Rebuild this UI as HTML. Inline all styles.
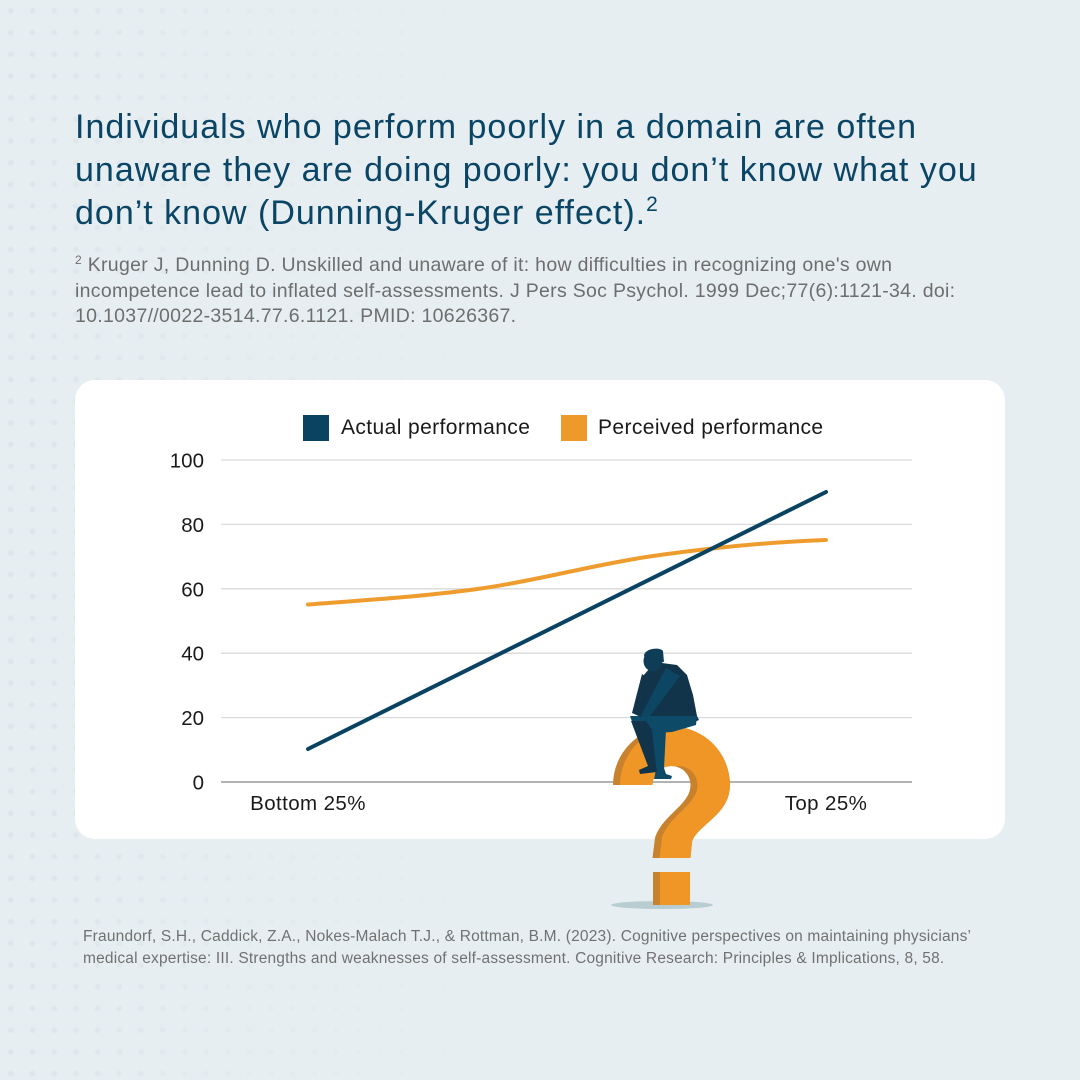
<!DOCTYPE html>
<html>
<head>
<meta charset="utf-8">
<style>
  html, body { margin:0; padding:0; }
  body { width:1080px; height:1080px; position:relative; overflow:hidden; background:#e6eef1; font-family:"Liberation Sans", sans-serif; }
  .dots { position:absolute; left:0; top:0; width:1080px; height:1080px;
    background-image: radial-gradient(circle, #dce5ea 2.4px, rgba(220,229,234,0) 3.2px);
    background-size: 21.7px 21.7px; background-position: 0 0;
    -webkit-mask-image: linear-gradient(to right, #000 0%, rgba(0,0,0,0.55) 15%, rgba(0,0,0,0.2) 30%, rgba(0,0,0,0) 45%);
    mask-image: linear-gradient(to right, #000 0%, rgba(0,0,0,0.55) 15%, rgba(0,0,0,0.2) 30%, rgba(0,0,0,0) 45%); }
  .title { position:absolute; left:75px; top:106px; font-size:34px; line-height:43px; color:#0b4565; white-space:nowrap; letter-spacing:1px; }
  .title sup { font-size:21px; vertical-align: 13px; line-height:0; letter-spacing:0; }
  .ref { position:absolute; left:75px; top:253px; font-size:19.5px; line-height:25.5px; color:#6e6e6e; white-space:nowrap; letter-spacing:0.3px; }
  .ref sup { font-size:12px; vertical-align:7px; line-height:0; }
  .card { position:absolute; left:75px; top:380px; width:930px; height:459px; background:#fff; border-radius:20px; }
  .foot { position:absolute; left:83px; top:926px; font-size:15.5px; line-height:21.5px; color:#717171; white-space:nowrap; letter-spacing:0.19px; }
  svg { position:absolute; left:0; top:0; }
</style>
</head>
<body>
<div class="dots"></div>
<div class="title">Individuals who perform poorly in a domain are often<br>unaware they are doing poorly: you don’t know what you<br>don’t know (Dunning-Kruger effect).<sup>2</sup></div>
<div class="ref"><sup>2</sup> Kruger J, Dunning D. Unskilled and unaware of it: how difficulties in recognizing one's own<br>incompetence lead to inflated self-assessments. J Pers Soc Psychol. 1999 Dec;77(6):1121-34. doi:<br>10.1037//0022-3514.77.6.1121. PMID: 10626367.</div>
<div class="card"></div>
<div class="foot">Fraundorf, S.H., Caddick, Z.A., Nokes-Malach T.J., &amp; Rottman, B.M. (2023). Cognitive perspectives on maintaining physicians’<br>medical expertise: III. Strengths and weaknesses of self-assessment. Cognitive Research: Principles &amp; Implications, 8, 58.</div>

<svg width="1080" height="1080" viewBox="0 0 1080 1080" xmlns="http://www.w3.org/2000/svg">
  <defs>
    <clipPath id="qclip">
      <path d="M613 785 L652.5 785 A19 19 0 0 1 690.5 785 C690.5 805 662 815 655 838 L652.5 858 L690.5 858 L692 842 C697 825 730 815 730 785 A58.5 58.5 0 0 0 613 785 Z"/>
      <rect x="653" y="872" width="37" height="33"/>
    </clipPath>
  </defs>
  <!-- legend -->
  <rect x="303" y="415" width="26" height="26" fill="#0a4362"/>
  <text x="341" y="434" font-family="Liberation Sans, sans-serif" font-size="21" letter-spacing="0.4" fill="#1a1a1a">Actual performance</text>
  <rect x="561" y="415" width="26" height="26" fill="#ee9a2b"/>
  <text x="598" y="434" font-family="Liberation Sans, sans-serif" font-size="21" letter-spacing="0.4" fill="#1a1a1a">Perceived performance</text>

  <!-- gridlines -->
  <g stroke="#dadada" stroke-width="1.3">
    <line x1="221" y1="460" x2="912" y2="460"/>
    <line x1="221" y1="524.4" x2="912" y2="524.4"/>
    <line x1="221" y1="588.8" x2="912" y2="588.8"/>
    <line x1="221" y1="653.2" x2="912" y2="653.2"/>
    <line x1="221" y1="717.6" x2="912" y2="717.6"/>
  </g>
  <line x1="221" y1="782" x2="912" y2="782" stroke="#9a9a9a" stroke-width="1.5"/>

  <!-- y ticks -->
  <g font-family="Liberation Sans, sans-serif" font-size="20.5" fill="#1a1a1a" text-anchor="end">
    <text x="204" y="467.5">100</text>
    <text x="204" y="531.9">80</text>
    <text x="204" y="596.3">60</text>
    <text x="204" y="660.7">40</text>
    <text x="204" y="725.1">20</text>
    <text x="204" y="789.5">0</text>
  </g>
  <g font-family="Liberation Sans, sans-serif" font-size="20.5" letter-spacing="0.4" fill="#1a1a1a" text-anchor="middle">
    <text x="308" y="810">Bottom 25%</text>
    <text x="826" y="810">Top 25%</text>
  </g>

  <!-- series -->
  <path d="M308 604.5 C366 600 423.5 596.6 481 588.5 C538.5 580.4 595.5 564.1 653 556 C710.5 547.9 768 542 826 540" fill="none" stroke="#ef9c2e" stroke-width="4" stroke-linecap="round"/>
  <line x1="308" y1="749" x2="826" y2="492" stroke="#0a4362" stroke-width="4" stroke-linecap="round"/>

  <!-- shadow -->
  <ellipse cx="662" cy="905" rx="51" ry="4" fill="#b7cdd2"/>

  <!-- question mark -->
  <g clip-path="url(#qclip)">
    <rect x="600" y="700" width="150" height="220" fill="#c8812c"/>
    <g transform="translate(7,0)">
      <path d="M613 785 L652.5 785 A19 19 0 0 1 690.5 785 C690.5 805 662 815 655 838 L652.5 858 L690.5 858 L692 842 C697 825 730 815 730 785 A58.5 58.5 0 0 0 613 785 Z" fill="#ef9627"/>
      <rect x="653" y="872" width="37" height="33" fill="#ef9627"/>
    </g>
  </g>

  <!-- thinker -->
  <g>
    <polygon points="651,730 666,730 664,768 666,774 672,776 671,779 654,779 656,770" fill="#0c4a68"/>
    <polygon points="643,676 650,668 662,663 677,665 687,675 693,695 697,716 699,720 690,724 640,719 636,712" fill="#12344a"/>
    <polygon points="630,716 697,716 696,725 672,732 654,733 634,727" fill="#0c4a68"/>
    <polygon points="631,721 646,721 652,730 656,766 657,772 640,774 639,770 648,766" fill="#12344a"/>
    <polygon points="666,668 680,676 650,716 640,717" fill="#0c4663"/>
    <polygon points="632,713 641,717 650,680 642,674" fill="#12344a"/>
    <ellipse cx="653" cy="661" rx="9.5" ry="10.5" fill="#0f3d57"/>
    <path d="M644 655 C646 648 660 647 663 651 L664 662 L645 660 Z" fill="#0f3d57"/>
  </g>
</svg>
</body>
</html>
